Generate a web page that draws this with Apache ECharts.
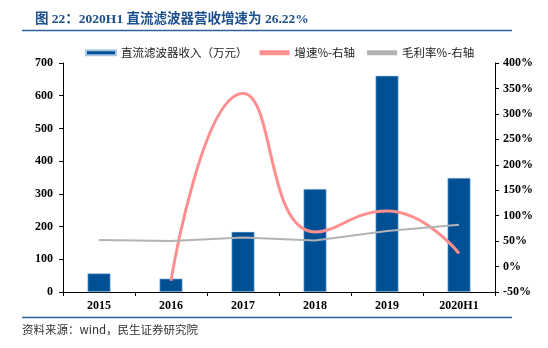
<!DOCTYPE html>
<html><head><meta charset="utf-8">
<script src="https://cdn.jsdelivr.net/npm/echarts@6/dist/echarts.min.js"></script>
<style>html,body{margin:0;padding:0;background:#fff}#c{width:548px;height:348px}</style>
</head><body><div id="c"></div>
<script>
var categories = ['2015','2016','2017','2018','2019','2020H1'];
var revenue = [57, 41, 184, 315, 661, 349];
var growth = [null, -28, 340, 68, 109, 26];
var margin = [52, 50, 57, 51, 70, 82];
var leftTicks = [0, 700, 100];
var rightTicks = [-50, 400, 50];

var serif = '"Liberation Serif","Times New Roman",serif';
var cjk = '"Noto Sans CJK SC",sans-serif';
var chart = echarts.init(document.getElementById('c'));
chart.setOption({
  animation: false,
  title: {
    text: '图 22：2020H1 直流滤波器营收增速为 26.22%',
    left: 30, top: 8,
    textStyle: {fontFamily: serif + ',' + cjk, fontSize: 13.5, fontWeight: 'bold', color: '#1c4f8e'}
  },
  graphic: [
    {type: 'line', shape: {x1: 22, y1: 30.5, x2: 512, y2: 30.5}, style: {stroke: '#2f5f9e', lineWidth: 1.5}},
    {type: 'line', shape: {x1: 22, y1: 317.5, x2: 512, y2: 317.5}, style: {stroke: '#2f5f9e', lineWidth: 1.5}},
    {type: 'text', left: 22, top: 324, style: {text: '资料来源：wind，民生证券研究院', fontFamily: cjk, fontSize: 11.5, fill: '#333'}}
  ],
  legend: {
    top: 42, left: 80, itemGap: 12, itemWidth: 30, itemHeight: 5,
    textStyle: {fontFamily: cjk, fontSize: 11.5, color: '#222'},
    data: [
      {name: '直流滤波器收入（万元）', icon: 'rect'},
      {name: '增速%-右轴', icon: 'rect', itemStyle: {color: '#ff8f8f'}},
      {name: '毛利率%-右轴', icon: 'rect', itemStyle: {color: '#b3b3b3'}}
    ]
  },
  grid: {left: 63, right: 53, top: 63, bottom: 56},
  xAxis: {
    type: 'category', data: categories,
    axisLine: {lineStyle: {color: '#000', width: 1}},
    axisTick: {show: true, length: 4, lineStyle: {color: '#000'}},
    axisLabel: {fontFamily: serif, fontWeight: 'bold', fontSize: 12, color: '#000', margin: 8}
  },
  yAxis: [
    {
      type: 'value', min: leftTicks[0], max: leftTicks[1], interval: leftTicks[2],
      axisLine: {show: true, lineStyle: {color: '#000'}},
      axisTick: {show: true, length: 4, lineStyle: {color: '#000'}},
      splitLine: {show: false},
      axisLabel: {fontFamily: serif, fontWeight: 'bold', fontSize: 12, color: '#000', margin: 10}
    },
    {
      type: 'value', min: rightTicks[0], max: rightTicks[1], interval: rightTicks[2],
      axisLine: {show: true, lineStyle: {color: '#000'}},
      axisTick: {show: true, length: 4, lineStyle: {color: '#000'}},
      splitLine: {show: false},
      axisLabel: {fontFamily: serif, fontWeight: 'bold', fontSize: 12, color: '#000', margin: 8, formatter: '{value}%'}
    }
  ],
  series: [
    {
      name: '直流滤波器收入（万元）', type: 'bar', data: revenue, barWidth: 23,
      itemStyle: {color: '#005096', borderColor: '#a9c6e4', borderWidth: 0.6}
    },
    {
      name: '增速%-右轴', type: 'line', yAxisIndex: 1, data: growth, smooth: 0.5,
      showSymbol: false, symbol: 'none', connectNulls: false,
      lineStyle: {color: '#ff8f8f', width: 3}, itemStyle: {color: '#ff8f8f'}
    },
    {
      name: '毛利率%-右轴', type: 'line', yAxisIndex: 1, data: margin,
      showSymbol: false, symbol: 'none',
      lineStyle: {color: '#b3b3b3', width: 2}, itemStyle: {color: '#b3b3b3'}
    }
  ]
});
</script></body></html>
